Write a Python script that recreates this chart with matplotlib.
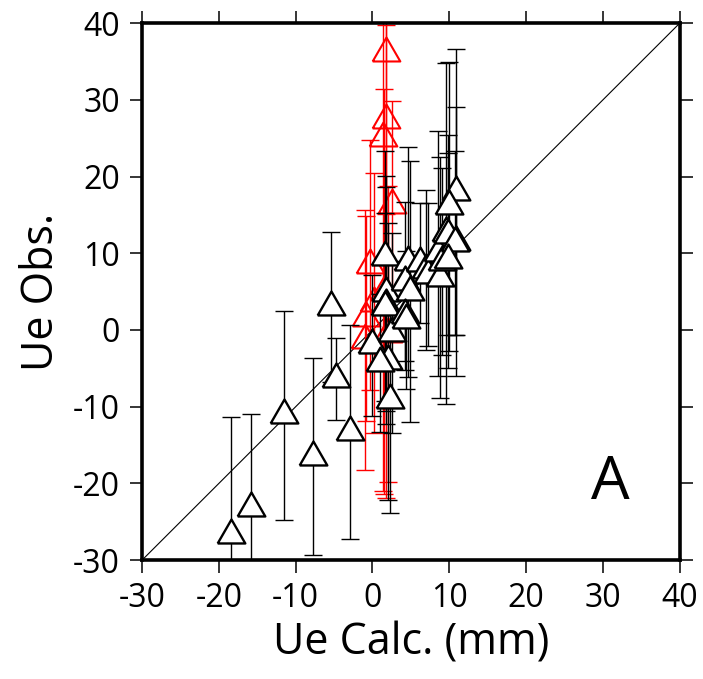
import matplotlib.pyplot as plt
import numpy as np

plt.rcParams['font.family'] = ['Open Sans', 'DejaVu Sans']
plt.rcParams['axes.unicode_minus'] = False

# red stations: calc, obs, error
red_x = [1.7, 1.7, 1.4, 2.6, -0.3, -0.8, -1.0, 0.2, 2.0, 1.5]
red_y = [36.1, 27.4, 25.0, 16.3, 8.5, 1.5, -1.3, 3.5, -0.5, 5.0]
red_err = [58.0, 12.3, 46.0, 13.5, 16.3, 13.3, 17.0, 16.9, 19.3, 26.4]

# black stations: calc, obs, error
blk_x = [-18.4, -15.8, -11.5, -7.7, -5.4, -4.75, -2.9, 0.0,
         1.6, 1.8, 1.8, 1.6, 2.5, 2.0, 2.3, 1.0,
         4.6, 4.2, 4.9, 4.2, 4.4, 6.2, 7.0, 7.2,
         8.5, 8.8, 9.0, 9.6, 10.9, 10.85, 9.9, 9.85, 10.7, 9.8]
blk_y = [-26.7, -23.2, -11.1, -16.5, 3.0, -6.4, -13.3, -2.0,
         9.5, 4.8, 3.2, 3.0, -0.4, -4.1, -9.1, -4.3,
         8.9, 6.3, 5.0, 1.9, 1.3, 8.7, 7.8, 7.2,
         10.0, 6.8, 8.9, 12.6, 11.5, 18.0, 16.1, 12.4, 11.3, 9.1]
blk_err = [15.3, 12.3, 13.6, 12.8, 9.8, 5.3, 14.0, 9.2,
           13.8, 15.3, 15.5, 12.2, 13.0, 18.0, 14.8, 9.0,
           15.0, 10.4, 17.0, 7.1, 9.0, 7.8, 10.4, 9.3,
           16.0, 15.7, 12.2, 22.2, 17.5, 18.6, 18.8, 13.0, 12.0, 14.0]

# equilateral triangle, centred on its centroid
tri = [(-1, -0.577), (1, -0.577), (0, 1.155), (-1, -0.577)]

fig = plt.figure(figsize=(7.03, 6.79), dpi=100)
ax = fig.add_axes([0.202, 0.175, 0.765, 0.791])

ax.plot([-30, 40], [-30, 40], color='black', lw=0.8, zorder=1)

ax.errorbar(red_x, red_y, yerr=red_err, fmt='none', ecolor='red',
            elinewidth=1.0, capsize=6.5, capthick=1.0, zorder=2)
ax.plot(red_x, red_y, linestyle='none', marker=tri, markersize=23,
        markerfacecolor='none', markeredgecolor='red', markeredgewidth=1.5, zorder=3)

for x, y, e in zip(blk_x, blk_y, blk_err):
    ax.errorbar([x], [y], yerr=[e], fmt='none', ecolor='black',
                elinewidth=1.0, capsize=6.5, capthick=1.0, zorder=4)
    ax.plot([x], [y], linestyle='none', marker=tri, markersize=23,
            markerfacecolor='white', markeredgecolor='black', markeredgewidth=1.7, zorder=5)

ax.set_xlim(-30, 40)
ax.set_ylim(-30, 40)
ax.set_xticks(np.arange(-30, 41, 10))
ax.set_yticks(np.arange(-30, 41, 10))
ax.tick_params(direction='out', length=9, width=1.1, labelsize=23, pad=7,
               top=True, right=True)
for s in ax.spines.values():
    s.set_linewidth(2.6)

ax.set_xlabel('Ue Calc. (mm)', fontsize=31, labelpad=4)
ax.set_ylabel('Ue Obs.', fontsize=31, labelpad=6)

ax.text(31, -20, 'A', fontsize=44, ha='center', va='center')

fig.savefig('out.png', dpi=100)
